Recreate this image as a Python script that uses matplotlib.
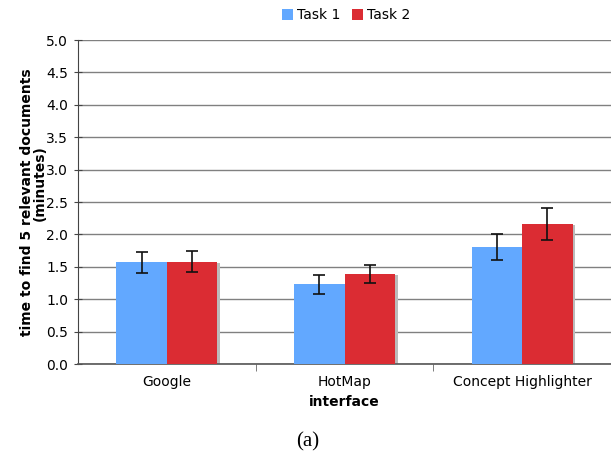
import matplotlib
matplotlib.use("Agg")
import matplotlib.pyplot as plt
import numpy as np

categories = ["Google", "HotMap", "Concept Highlighter"]
task1 = [1.57, 1.23, 1.81]
task2 = [1.58, 1.39, 2.16]
task1_err = [0.165, 0.145, 0.20]
task2_err = [0.165, 0.135, 0.25]
yticks = [0.0, 0.5, 1.0, 1.5, 2.0, 2.5, 3.0, 3.5, 4.0, 4.5, 5.0]

plt.rcParams['font.family'] = ['DejaVu Sans']
fig = plt.figure(figsize=(6.11, 4.57), dpi=100)
ax = fig.add_axes([78/611, 1-364/457, 533/611, 324/457])

x = np.arange(len(categories))
w = 0.285
blue = "#62A8FF"
red = "#DB2C33"
# shadows
ax.bar(x - w/2 + 0.015, task1, w, bottom=-0.02, color="#bbbbbb", zorder=2, align="center")
ax.bar(x + w/2 + 0.015, task2, w, bottom=-0.02, color="#bbbbbb", zorder=2, align="center")
ax.bar(x - w/2, task1, w, color=blue, zorder=3, label="Task 1")
ax.bar(x + w/2, task2, w, color=red, zorder=3, label="Task 2")
ax.errorbar(x - w/2, task1, yerr=task1_err, fmt="none", ecolor="#111111", elinewidth=1.2, capsize=4, capthick=1.2, zorder=4)
ax.errorbar(x + w/2, task2, yerr=task2_err, fmt="none", ecolor="#111111", elinewidth=1.2, capsize=4, capthick=1.2, zorder=4)

ax.set_xlim(-0.5, 2.5)
ax.set_ylim(0, 5)
ax.set_yticks(yticks)
ax.set_yticklabels([f"{v:.1f}" for v in yticks], fontsize=10)
ax.set_xticks(x)
ax.set_xticklabels(categories, fontsize=10)
ax.set_xticks([0.5, 1.5], minor=True)
ax.tick_params(axis="x", which="major", length=0, pad=8)
ax.tick_params(axis="x", which="minor", length=5, direction="out", color="#666666")
ax.tick_params(axis="y", length=6, direction="inout", color="#444444", pad=4)
ax.yaxis.grid(True, color="#808080", linewidth=1, zorder=0)
ax.set_axisbelow(True)
for s in ["top", "right"]:
    ax.spines[s].set_visible(False)
ax.spines["left"].set_color("#444444")
ax.spines["bottom"].set_color("#555555")
ax.spines["bottom"].set_linewidth(1.2)

fig.text(27/611, 1-202/457, "time to find 5 relevant documents", rotation=90, fontsize=10,
         fontweight="bold", ha="center", va="center")
fig.text(40/611, 1-183/457, "(minutes)", rotation=90, fontsize=10,
         fontweight="bold", ha="center", va="center")
ax.set_xlabel("interface", fontsize=10, fontweight="bold", labelpad=4)

leg = fig.legend(loc="upper center", bbox_to_anchor=(346/611, 1.0), ncol=2, frameon=False,
                 fontsize=10, handlelength=0.8, handleheight=0.8, handletextpad=0.3, columnspacing=0.8, borderaxespad=0.2)

fig.text(308/611, 1-442/457, "(a)", fontsize=15, family="Liberation Serif", ha="center", va="center")

fig.savefig("out.png", dpi=100)
